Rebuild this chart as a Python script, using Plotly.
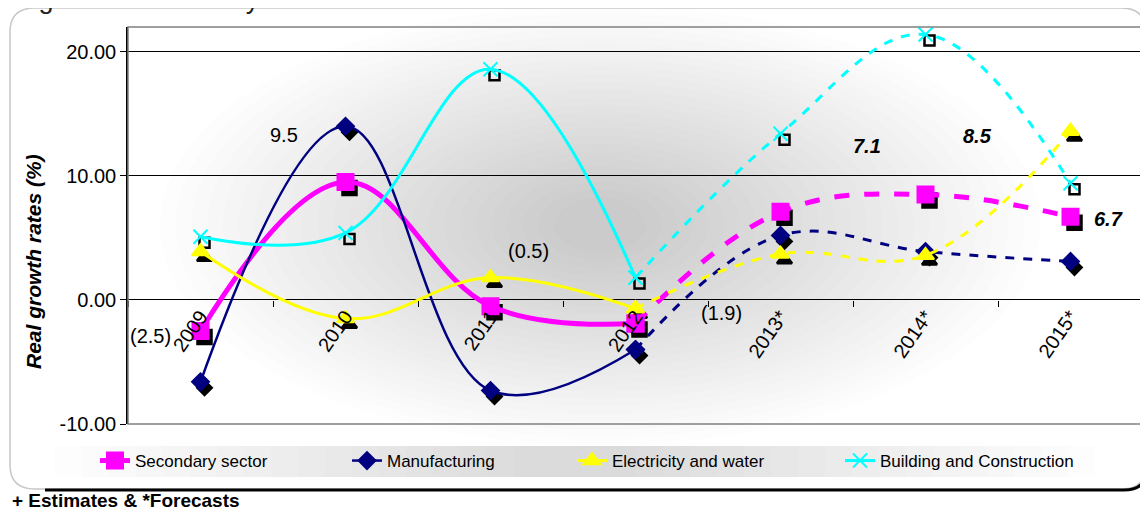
import plotly.graph_objects as go

# ---------------- data ----------------
years = ["2009", "2010", "2011", "2012", "2013*", "2014*", "2015*"]
secondary = [-2.5, 9.5, -0.5, -1.9, 7.1, 8.5, 6.7]
manufacturing = [-6.6, 14.0, -7.3, -4.0, 5.2, 3.9, 3.1]
electricity = [3.9, -1.5, 1.8, -0.7, 3.7, 3.6, 13.6]
building = [5.1, 5.4, 18.6, 1.8, 13.4, 21.4, 9.4]
series_names = ["Secondary sector", "Manufacturing", "Electricity and water", "Building and Construction"]
y_tick_values = [-10, 0, 10, 20]
y_tick_labels = ["-10.00", "0.00", "10.00", "20.00"]

# ---------------- geometry helpers (reference-pixel based) ----------------
OFF = 8                      # page body margin
W, H = 1148 - OFF, 512 - OFF
PL, PR, PT, PB = 128, 1143, 27, 424   # plot area in page pixels
ML, MR, MT, MB = PL - OFF, 1148 - PR, PT - OFF, 512 - PB
PW, PH = PR - PL, PB - PT


def px(x):
    return (x - PL) / PW


def py(y):
    return (PB - y) / PH


YMIN, YMAX = -10, 22
X_SHIFT = 4 / (PW / 7)              # shadow offset (categories)
Y_SHIFT = 6 / (PH / (YMAX - YMIN))  # shadow offset (units)

styles = [
    dict(color="#FF00FF", width=5, symbol="square", size=16, dwidth=5),
    dict(color="#000080", width=2.5, symbol="diamond", size=13, dwidth=3),
    dict(color="#FFFF00", width=3, symbol="triangle-up", size=15, dwidth=3),
    dict(color="#00FFFF", width=3, symbol="x-thin-open", size=14, dwidth=3),
]
shadow_symbols = ["square", "diamond", "triangle-up", "square-open"]
values = [secondary, manufacturing, electricity, building]
legend_ids = ["legend", "legend2", "legend3", "legend4"]
legend_text_x = [135, 387, 612, 880]

fig = go.Figure()

# shadows (on hidden, offset axes x/y -> drawn beneath main traces)
for vals, st, ss in zip(values, styles, shadow_symbols):
    fig.add_trace(go.Scatter(
        x=years, y=vals, mode="markers", xaxis="x", yaxis="y",
        marker=dict(symbol=ss, size=st["size"] - 2 if ss != "square-open" else 10,
                    color="black", line=dict(color="black", width=2.5)),
        showlegend=False, hoverinfo="skip"))

# main series: solid actuals (2009-2012) and dashed forecasts (2012-2015*)
for name, vals, st, lg in zip(series_names, values, styles, legend_ids):
    fig.add_trace(go.Scatter(
        x=years[:4], y=vals[:4], mode="lines+markers", name=name,
        xaxis="x2", yaxis="y2", legend=lg,
        line=dict(color=st["color"], width=st["width"], shape="spline", smoothing=1.1),
        marker=dict(symbol=st["symbol"], size=st["size"], color=st["color"],
                    line=dict(color=st["color"], width=2)),
        legendgroup=name, showlegend=True))
    fig.add_trace(go.Scatter(
        x=years[3:], y=vals[3:], mode="lines+markers", name=name,
        xaxis="x2", yaxis="y2", legend=lg,
        line=dict(color=st["color"], width=st["dwidth"], shape="spline", smoothing=1.1, dash="dash"),
        marker=dict(symbol=st["symbol"], size=st["size"], color=st["color"],
                    line=dict(color=st["color"], width=2)),
        legendgroup=name, showlegend=False))

# data labels for secondary sector
label_offsets = [(-50, -5), (-62, 47), (38, 55), (86, 11), (86, 66), (52, 58), (38, -2)]
annotations = []
for i, v in enumerate(secondary):
    txt = f"({abs(v):.1f})" if v < 0 else f"{v:.1f}"
    if i >= 4:
        txt = f"<b><i>{txt}</i></b>"
    dx, dy = label_offsets[i]
    annotations.append(dict(x=i, y=v, xref="x2", yref="y2", text=txt, showarrow=False,
                            xanchor="center", yanchor="middle",
                            xshift=dx, yshift=dy,
                            font=dict(size=20, color="black", family="Liberation Sans, Arial")))

# axis title, footnote, cut-off figure title
annotations.append(dict(x=px(33), y=py(262), xref="paper", yref="paper", textangle=-90,
                        xanchor="center", yanchor="middle",
                        text="<b><i>Real growth rates (%)</i></b>", showarrow=False,
                        font=dict(size=21, color="black", family="Liberation Sans, Arial")))
annotations.append(dict(x=px(10), y=py(500), xref="paper", yref="paper", xanchor="left",
                        yanchor="middle", text="<b>+ Estimates &amp; *Forecasts</b>", showarrow=False,
                        font=dict(size=19, color="black", family="Liberation Sans, Arial")))
annotations.append(dict(x=px(14), y=py(16), xref="paper", yref="paper", xanchor="left",
                        yanchor="bottom", text="Figure 3: Secondary Sector Growth", showarrow=False,
                        font=dict(size=27, color="#222222", family="Liberation Sans, Arial")))

shapes = []
# radial grey gradient behind plot
cx, cy = 600, 225
N = 26
for k in range(N):
    f = 1 - k / N
    rx, ry = 410 * f + 30, 200 * f + 20
    shapes.append(dict(type="circle", xref="paper", yref="paper",
                       x0=px(cx - rx), x1=px(cx + rx), y0=py(cy + ry), y1=py(cy - ry),
                       fillcolor="rgba(100,100,100,0.012)", line=dict(width=0), layer="below"))
# legend gradient band
NL = 18
for k in range(NL):
    half = 520 - k * 27
    shapes.append(dict(type="rect", xref="paper", yref="paper",
                       x0=px(575 - half), x1=px(575 + half), y0=py(477), y1=py(446),
                       fillcolor="rgba(110,110,110,0.015)", line=dict(width=0), layer="below"))
# plot frame
shapes.append(dict(type="rect", xref="paper", yref="paper", x0=0, x1=1, y0=0, y1=1,
                   line=dict(color="#808080", width=1.5), layer="above"))


def P(x, y):
    return f"{px(x)},{py(y)}"


outer = (f"M {P(10, 32)} Q {P(10, 8)} {P(35, 8)} L {P(1121, 8)} Q {P(1146, 8)} {P(1146, 32)} "
         f"L {P(1146, 465)} Q {P(1146, 489)} {P(1122, 489)} L {P(35, 489)} Q {P(10, 489)} {P(10, 465)} Z")
shapes.append(dict(type="path", xref="paper", yref="paper", path=outer,
                   line=dict(color="#c8c8c8", width=1.5), layer="below"))
shadow = f"M {P(45, 490)} L {P(1124, 490)} Q {P(1147, 490)} {P(1147, 468)}"
shapes.append(dict(type="path", xref="paper", yref="paper", path=shadow,
                   line=dict(color="black", width=3), layer="below"))

legend_common = dict(orientation="h", yanchor="middle", xanchor="left",
                     bgcolor="rgba(0,0,0,0)", font=dict(size=17, color="black"), itemwidth=30)
legends = {}
for lg, tx in zip(legend_ids, legend_text_x):
    legends[lg] = dict(legend_common, x=px(tx - 40), y=py(461))

fig.update_layout(
    width=W, height=H, autosize=False,
    margin=dict(l=ML, r=MR, t=MT, b=MB),
    paper_bgcolor="white", plot_bgcolor="rgba(0,0,0,0)",
    font=dict(family="Liberation Sans, Arial", color="black"),
    xaxis=dict(type="category", categoryorder="array", categoryarray=years,
               range=[-0.5 - X_SHIFT, 6.5 - X_SHIFT], visible=False, fixedrange=True),
    yaxis=dict(range=[YMIN + Y_SHIFT, YMAX + Y_SHIFT], visible=False, fixedrange=True),
    xaxis2=dict(type="category", categoryorder="array", categoryarray=years,
                overlaying="x", range=[-0.5, 6.5], anchor="free", position=py(300),
                ticks="outside", tickson="boundaries", ticklen=6, tickcolor="black",
                showline=False, showgrid=False, zeroline=False, tickangle=-55,
                tickfont=dict(size=20, color="black")),
    yaxis2=dict(overlaying="y", range=[YMIN, YMAX], anchor="x2", side="left",
                tickvals=y_tick_values, ticktext=y_tick_labels,
                ticks="outside", ticklen=6, tickcolor="black",
                showline=True, linecolor="black", linewidth=1.5,
                showgrid=True, gridcolor="black", gridwidth=1, zeroline=False,
                tickfont=dict(size=20, color="black")),
    annotations=annotations,
    shapes=shapes,
    showlegend=True,
    **legends,
)

fig.write_html("out.html")
